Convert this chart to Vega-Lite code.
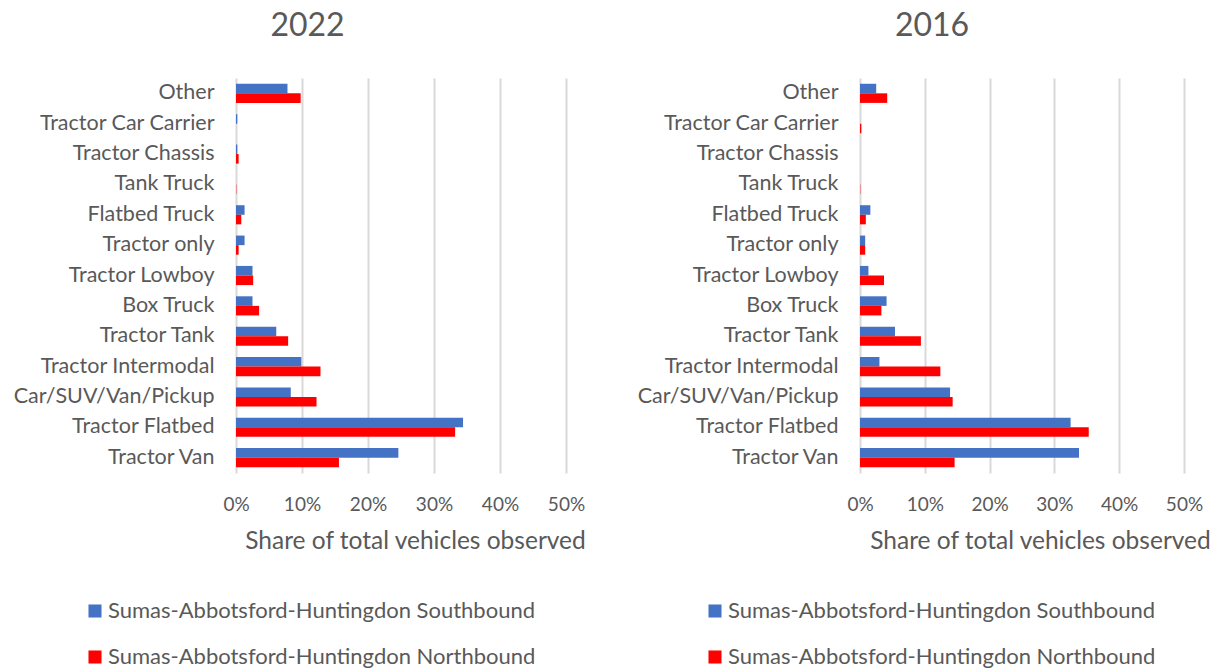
{
  "$schema": "https://vega.github.io/schema/vega-lite/v6.json",
  "background": "white",
  "padding": {"left": 13, "top": 10, "right": 5, "bottom": 5},
  "config": {
    "font": "Lato",
    "view": {"stroke": null},
    "axis": {"labelColor": "#595959", "titleColor": "#595959", "gridColor": "#d9d9d9", "gridWidth": 2, "domain": false, "ticks": false, "labelLimit": 0, "labelFlush": false},
    "legend": {"labelColor": "#595959", "labelLimit": 0},
    "concat": {"spacing": 51}
  },
  "data": {"values": [
    {"panel": "2022", "category": "Other", "direction": "Sumas-Abbotsford-Huntingdon Southbound", "share": 0.078},
    {"panel": "2022", "category": "Other", "direction": "Sumas-Abbotsford-Huntingdon Northbound", "share": 0.098},
    {"panel": "2022", "category": "Tractor Car Carrier", "direction": "Sumas-Abbotsford-Huntingdon Southbound", "share": 0.002},
    {"panel": "2022", "category": "Tractor Car Carrier", "direction": "Sumas-Abbotsford-Huntingdon Northbound", "share": 0.0},
    {"panel": "2022", "category": "Tractor Chassis", "direction": "Sumas-Abbotsford-Huntingdon Southbound", "share": 0.002},
    {"panel": "2022", "category": "Tractor Chassis", "direction": "Sumas-Abbotsford-Huntingdon Northbound", "share": 0.004},
    {"panel": "2022", "category": "Tank Truck", "direction": "Sumas-Abbotsford-Huntingdon Southbound", "share": 0.0},
    {"panel": "2022", "category": "Tank Truck", "direction": "Sumas-Abbotsford-Huntingdon Northbound", "share": 0.0005},
    {"panel": "2022", "category": "Flatbed Truck", "direction": "Sumas-Abbotsford-Huntingdon Southbound", "share": 0.013},
    {"panel": "2022", "category": "Flatbed Truck", "direction": "Sumas-Abbotsford-Huntingdon Northbound", "share": 0.008},
    {"panel": "2022", "category": "Tractor only", "direction": "Sumas-Abbotsford-Huntingdon Southbound", "share": 0.013},
    {"panel": "2022", "category": "Tractor only", "direction": "Sumas-Abbotsford-Huntingdon Northbound", "share": 0.004},
    {"panel": "2022", "category": "Tractor Lowboy", "direction": "Sumas-Abbotsford-Huntingdon Southbound", "share": 0.025},
    {"panel": "2022", "category": "Tractor Lowboy", "direction": "Sumas-Abbotsford-Huntingdon Northbound", "share": 0.026},
    {"panel": "2022", "category": "Box Truck", "direction": "Sumas-Abbotsford-Huntingdon Southbound", "share": 0.025},
    {"panel": "2022", "category": "Box Truck", "direction": "Sumas-Abbotsford-Huntingdon Northbound", "share": 0.035},
    {"panel": "2022", "category": "Tractor Tank", "direction": "Sumas-Abbotsford-Huntingdon Southbound", "share": 0.061},
    {"panel": "2022", "category": "Tractor Tank", "direction": "Sumas-Abbotsford-Huntingdon Northbound", "share": 0.079},
    {"panel": "2022", "category": "Tractor Intermodal", "direction": "Sumas-Abbotsford-Huntingdon Southbound", "share": 0.099},
    {"panel": "2022", "category": "Tractor Intermodal", "direction": "Sumas-Abbotsford-Huntingdon Northbound", "share": 0.128},
    {"panel": "2022", "category": "Car/SUV/Van/Pickup", "direction": "Sumas-Abbotsford-Huntingdon Southbound", "share": 0.083},
    {"panel": "2022", "category": "Car/SUV/Van/Pickup", "direction": "Sumas-Abbotsford-Huntingdon Northbound", "share": 0.122},
    {"panel": "2022", "category": "Tractor Flatbed", "direction": "Sumas-Abbotsford-Huntingdon Southbound", "share": 0.344},
    {"panel": "2022", "category": "Tractor Flatbed", "direction": "Sumas-Abbotsford-Huntingdon Northbound", "share": 0.332},
    {"panel": "2022", "category": "Tractor Van", "direction": "Sumas-Abbotsford-Huntingdon Southbound", "share": 0.246},
    {"panel": "2022", "category": "Tractor Van", "direction": "Sumas-Abbotsford-Huntingdon Northbound", "share": 0.156},
    {"panel": "2016", "category": "Other", "direction": "Sumas-Abbotsford-Huntingdon Southbound", "share": 0.025},
    {"panel": "2016", "category": "Other", "direction": "Sumas-Abbotsford-Huntingdon Northbound", "share": 0.042},
    {"panel": "2016", "category": "Tractor Car Carrier", "direction": "Sumas-Abbotsford-Huntingdon Southbound", "share": 0.0},
    {"panel": "2016", "category": "Tractor Car Carrier", "direction": "Sumas-Abbotsford-Huntingdon Northbound", "share": 0.002},
    {"panel": "2016", "category": "Tractor Chassis", "direction": "Sumas-Abbotsford-Huntingdon Southbound", "share": 0.0},
    {"panel": "2016", "category": "Tractor Chassis", "direction": "Sumas-Abbotsford-Huntingdon Northbound", "share": 0.0},
    {"panel": "2016", "category": "Tank Truck", "direction": "Sumas-Abbotsford-Huntingdon Southbound", "share": 0.0},
    {"panel": "2016", "category": "Tank Truck", "direction": "Sumas-Abbotsford-Huntingdon Northbound", "share": 0.0005},
    {"panel": "2016", "category": "Flatbed Truck", "direction": "Sumas-Abbotsford-Huntingdon Southbound", "share": 0.016},
    {"panel": "2016", "category": "Flatbed Truck", "direction": "Sumas-Abbotsford-Huntingdon Northbound", "share": 0.009},
    {"panel": "2016", "category": "Tractor only", "direction": "Sumas-Abbotsford-Huntingdon Southbound", "share": 0.008},
    {"panel": "2016", "category": "Tractor only", "direction": "Sumas-Abbotsford-Huntingdon Northbound", "share": 0.008},
    {"panel": "2016", "category": "Tractor Lowboy", "direction": "Sumas-Abbotsford-Huntingdon Southbound", "share": 0.013},
    {"panel": "2016", "category": "Tractor Lowboy", "direction": "Sumas-Abbotsford-Huntingdon Northbound", "share": 0.037},
    {"panel": "2016", "category": "Box Truck", "direction": "Sumas-Abbotsford-Huntingdon Southbound", "share": 0.041},
    {"panel": "2016", "category": "Box Truck", "direction": "Sumas-Abbotsford-Huntingdon Northbound", "share": 0.033},
    {"panel": "2016", "category": "Tractor Tank", "direction": "Sumas-Abbotsford-Huntingdon Southbound", "share": 0.054},
    {"panel": "2016", "category": "Tractor Tank", "direction": "Sumas-Abbotsford-Huntingdon Northbound", "share": 0.094},
    {"panel": "2016", "category": "Tractor Intermodal", "direction": "Sumas-Abbotsford-Huntingdon Southbound", "share": 0.030},
    {"panel": "2016", "category": "Tractor Intermodal", "direction": "Sumas-Abbotsford-Huntingdon Northbound", "share": 0.124},
    {"panel": "2016", "category": "Car/SUV/Van/Pickup", "direction": "Sumas-Abbotsford-Huntingdon Southbound", "share": 0.139},
    {"panel": "2016", "category": "Car/SUV/Van/Pickup", "direction": "Sumas-Abbotsford-Huntingdon Northbound", "share": 0.143},
    {"panel": "2016", "category": "Tractor Flatbed", "direction": "Sumas-Abbotsford-Huntingdon Southbound", "share": 0.325},
    {"panel": "2016", "category": "Tractor Flatbed", "direction": "Sumas-Abbotsford-Huntingdon Northbound", "share": 0.353},
    {"panel": "2016", "category": "Tractor Van", "direction": "Sumas-Abbotsford-Huntingdon Southbound", "share": 0.338},
    {"panel": "2016", "category": "Tractor Van", "direction": "Sumas-Abbotsford-Huntingdon Northbound", "share": 0.146}
  ]},
  "resolve": {"scale": {"color": "independent"}},
  "hconcat": [
    {
      "transform": [{"filter": "datum.panel === '2022'"}],
      "title": {"text": "2022", "fontSize": 32, "fontWeight": "normal", "color": "#595959", "frame": "bounds", "anchor": "middle", "offset": 35, "dx": 8},
      "width": 330,
      "height": 395,
      "mark": {"type": "bar"},
      "encoding": {
        "y": {"field": "category", "type": "nominal", "sort": ["Other", "Tractor Car Carrier", "Tractor Chassis", "Tank Truck", "Flatbed Truck", "Tractor only", "Tractor Lowboy", "Box Truck", "Tractor Tank", "Tractor Intermodal", "Car/SUV/Van/Pickup", "Tractor Flatbed", "Tractor Van"],
          "scale": {"paddingInner": 0.37, "paddingOuter": 0.19},
          "axis": {"title": null, "labelFontSize": 21.5, "labelPadding": 22, "grid": false}},
        "yOffset": {"field": "direction", "type": "nominal", "sort": ["Sumas-Abbotsford-Huntingdon Southbound", "Sumas-Abbotsford-Huntingdon Northbound"], "scale": {"paddingInner": 0, "paddingOuter": 0}},
        "x": {"field": "share", "type": "quantitative", "scale": {"domain": [0, 0.5], "nice": false},
          "axis": {"title": "Share of total vehicles observed", "format": "%", "values": [0, 0.1, 0.2, 0.3, 0.4, 0.5], "labelFontSize": 19, "labelPadding": 22, "titleFontSize": 24.5, "titleFontWeight": "normal", "titlePadding": 15, "titleX": 179}},
        "color": {"field": "direction", "type": "nominal", "sort": ["Sumas-Abbotsford-Huntingdon Southbound", "Sumas-Abbotsford-Huntingdon Northbound"],
          "scale": {"domain": ["Sumas-Abbotsford-Huntingdon Southbound", "Sumas-Abbotsford-Huntingdon Northbound"], "range": ["#4472C4", "#FF0000"]},
          "legend": {"title": null, "orient": "none", "legendX": -152, "legendY": 522, "direction": "vertical", "symbolType": "square", "symbolSize": 170, "symbolStrokeWidth": 0, "symbolOpacity": 1, "labelFontSize": 22, "rowPadding": 24, "labelOffset": 2}}
      }
    },
    {
      "transform": [{"filter": "datum.panel === '2016'"}],
      "title": {"text": "2016", "fontSize": 32, "fontWeight": "normal", "color": "#595959", "frame": "bounds", "anchor": "middle", "offset": 35, "dx": 8},
      "width": 324,
      "height": 395,
      "mark": {"type": "bar"},
      "encoding": {
        "y": {"field": "category", "type": "nominal", "sort": ["Other", "Tractor Car Carrier", "Tractor Chassis", "Tank Truck", "Flatbed Truck", "Tractor only", "Tractor Lowboy", "Box Truck", "Tractor Tank", "Tractor Intermodal", "Car/SUV/Van/Pickup", "Tractor Flatbed", "Tractor Van"],
          "scale": {"paddingInner": 0.37, "paddingOuter": 0.19},
          "axis": {"title": null, "labelFontSize": 21.5, "labelPadding": 22, "grid": false}},
        "yOffset": {"field": "direction", "type": "nominal", "sort": ["Sumas-Abbotsford-Huntingdon Southbound", "Sumas-Abbotsford-Huntingdon Northbound"], "scale": {"paddingInner": 0, "paddingOuter": 0}},
        "x": {"field": "share", "type": "quantitative", "scale": {"domain": [0, 0.5], "nice": false},
          "axis": {"title": "Share of total vehicles observed", "format": "%", "values": [0, 0.1, 0.2, 0.3, 0.4, 0.5], "labelFontSize": 19, "labelPadding": 22, "titleFontSize": 24.5, "titleFontWeight": "normal", "titlePadding": 15, "titleX": 180}},
        "color": {"field": "direction", "type": "nominal", "sort": ["Sumas-Abbotsford-Huntingdon Southbound", "Sumas-Abbotsford-Huntingdon Northbound"],
          "scale": {"domain": ["Sumas-Abbotsford-Huntingdon Southbound", "Sumas-Abbotsford-Huntingdon Northbound"], "range": ["#4472C4", "#FF0000"]},
          "legend": {"title": null, "orient": "none", "legendX": -156, "legendY": 522, "direction": "vertical", "symbolType": "square", "symbolSize": 170, "symbolStrokeWidth": 0, "symbolOpacity": 1, "labelFontSize": 22, "rowPadding": 24, "labelOffset": 2}}
      }
    }
  ]
}
